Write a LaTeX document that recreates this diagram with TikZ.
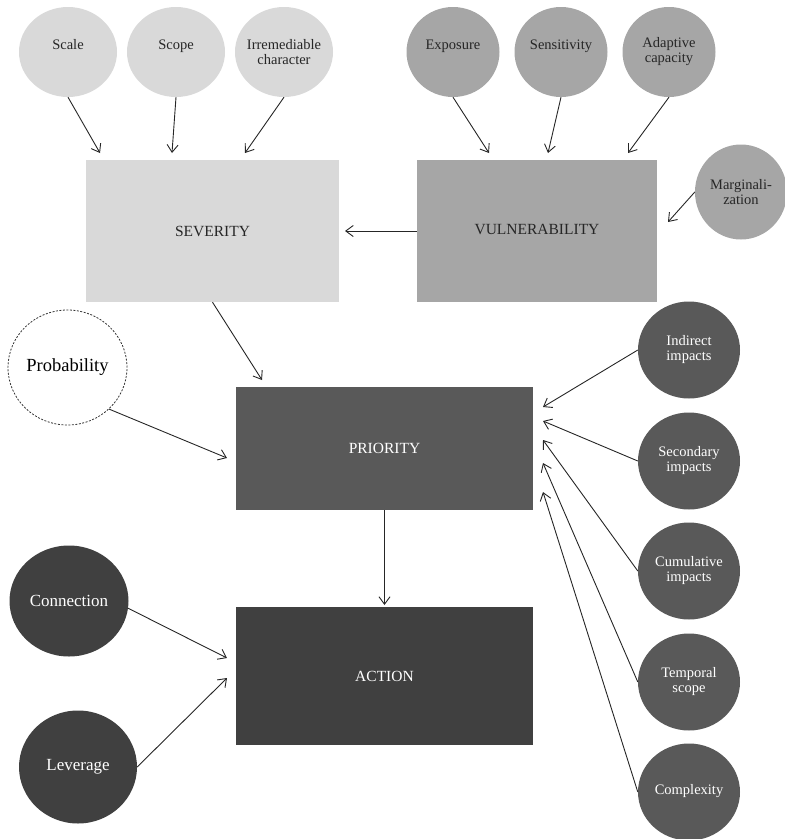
\documentclass[tikz,border=0pt]{standalone}
\usepackage{fontspec}
\setmainfont{Liberation Serif}
\usetikzlibrary{arrows.meta,shapes.geometric}
\definecolor{cLight}{HTML}{D9D9D9}
\definecolor{cMid}{HTML}{A6A6A6}
\definecolor{cDark}{HTML}{595959}
\definecolor{cDarker}{HTML}{404040}
\begin{document}
\begin{tikzpicture}[x=1pt,y=-1pt,
  circ/.style={ellipse, draw=none, inner xsep=-8pt, inner ysep=0pt, align=center,
    font=\fontsize{14.5}{15}\selectfont},
  lightc/.style={circ, fill=cLight, text=black!85, minimum width=98pt, minimum height=90pt},
  midc/.style={circ, fill=cMid, text=black!85, minimum width=93pt, minimum height=90pt},
  darkc/.style={circ, fill=cDark, text=white, minimum width=102pt, minimum height=97pt},
  bigc/.style={circ, fill=cDarker, text=white, font=\fontsize{17}{19}\selectfont},
  probc/.style={circ, fill=white, draw=black!80, line width=0.8pt,
    dash pattern=on 2pt off 1.5pt, font=\fontsize{18.5}{20}\selectfont,
    minimum width=119pt, minimum height=115pt},
  boxn/.style={rectangle, draw=none, inner sep=0pt, font=\fontsize{15.5}{18}\selectfont},
  arr/.style={draw=black!85, line width=0.9pt,
    -{Straight Barb[length=7.5pt,width=11pt,line width=0.9pt]}}
]
\useasboundingbox (0,0) rectangle (785,839);

% boxes
\node[boxn, fill=cLight, text=black!85, minimum width=253pt, minimum height=142pt] (sev) at (212.5,231) {SEVERITY};
\node[boxn, fill=cMid, text=black!85, minimum width=240pt, minimum height=142pt] (vul) at (537,231) {\raisebox{3pt}{VULNERABILITY}};
\node[boxn, fill=cDark, text=white, minimum width=297pt, minimum height=123pt] (pri) at (384.5,448.5) {PRIORITY};
\node[boxn, fill=cDarker, text=white, minimum width=297pt, minimum height=138pt] (act) at (384.5,676) {ACTION};

% severity inputs
\node[lightc] (scale) at (68,52) {Scale\\\phantom{x}};
\node[lightc] (scope) at (176,52) {Scope\\\phantom{x}};
\node[lightc] (irr) at (284,52) {Irremediable\\character};

% vulnerability inputs
\node[midc] (exp) at (453,52) {Exposure\\\phantom{x}};
\node[midc] (sens) at (561,52) {Sensitivity\\\phantom{x}};
\node[midc] (adap) at (669,52) {Adaptive\\capacity};
\node[midc, minimum width=92pt, minimum height=95pt] (marg) at (741,192) {Marginali-\\zation};

% probability
\node[probc] (prob) at (67.5,367.5) {\raisebox{4pt}{Probability}};

% right impacts
\node[darkc] (ind) at (689,350) {Indirect\\impacts};
\node[darkc] (sec) at (689,461) {Secondary\\impacts};
\node[darkc] (cum) at (689,571) {Cumulative\\impacts};
\node[darkc] (tem) at (689,682) {Temporal\\scope};
\node[darkc] (com) at (689,792) {\raisebox{5pt}{Complexity}};

% action inputs
\node[bigc, minimum width=119pt, minimum height=111pt] (conn) at (69,601) {Connection};
\node[bigc, minimum width=118pt, minimum height=113pt] (lev) at (78,767) {\raisebox{5pt}{Leverage}};

% arrow tip coordinates
\coordinate (tScale) at (100,153);
\coordinate (tScope) at (172,153);
\coordinate (tIrr) at (245,153);
\coordinate (tExp) at (489,153);
\coordinate (tSens) at (548,153);
\coordinate (tAdap) at (628,153);
\coordinate (tMarg) at (668,222);
\coordinate (tVul) at (345,231);
\coordinate (tSev) at (262,380);
\coordinate (tProb) at (227,458);
\coordinate (tPri) at (384.5,605);
\coordinate (tConn) at (227,658);
\coordinate (tLev) at (227,678);
\coordinate (tInd) at (543,407);
\coordinate (tSec) at (543,421);
\coordinate (tCum) at (543,440);
\coordinate (tTem) at (543,463);
\coordinate (tCom) at (543,492);

% connectors
\draw[arr] (scale.south) -- (tScale);
\draw[arr] (scope.south) -- (tScope);
\draw[arr] (irr.south) -- (tIrr);
\draw[arr] (exp.south) -- (tExp);
\draw[arr] (sens.south) -- (tSens);
\draw[arr] (adap.south) -- (tAdap);
\draw[arr] (marg.west) -- (tMarg);
\draw[arr] (vul.west) -- (tVul);
\draw[arr] (sev.south) -- (tSev);
\draw[arr] (prob.-45) -- (tProb);
\draw[arr] (pri.south) -- (tPri);
\draw[arr] (conn.-7) -- (tConn);
\draw[arr] (lev.east) -- (tLev);
\draw[arr] (ind.west) -- (tInd);
\draw[arr] (sec.west) -- (tSec);
\draw[arr] (cum.west) -- (tCum);
\draw[arr] (tem.west) -- (tTem);
\draw[arr] (com.west) -- (tCom);
\end{tikzpicture}
\end{document}
